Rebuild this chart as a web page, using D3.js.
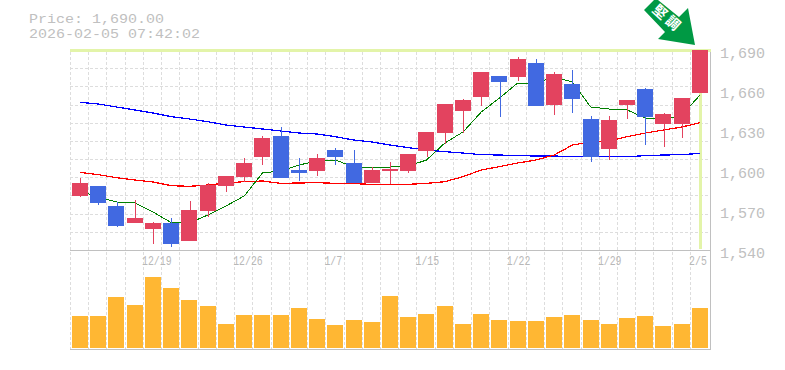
<!DOCTYPE html>
<html>
<head>
<meta charset="utf-8">
<script src="https://cdn.jsdelivr.net/npm/d3@7"></script>
<style>
  html, body { margin: 0; padding: 0; background: #fff; overflow: hidden; }
  text { font-family: "Liberation Mono", monospace; fill: #c0c0c0; }
</style>
</head>
<body>
<div id="chart"></div>
<script>
// etiquetas y datos
const titlePrice = 'Price: 1,690.00';
const titleTime = '2026-02-05 07:42:02';
const arrowLabel = ['堅', '調'];

const dates = ['12/15', '12/16', '12/17', '12/18', '12/19', '12/22', '12/23', '12/24', '12/25', '12/26',
  '12/29', '12/30', '1/5', '1/6', '1/7', '1/8', '1/9', '1/13', '1/14', '1/15',
  '1/16', '1/19', '1/20', '1/21', '1/22', '1/23', '1/26', '1/27', '1/28', '1/29',
  '1/30', '2/2', '2/3', '2/4', '2/5'];
const dateTicks = ['12/19', '12/26', '1/7', '1/15', '1/22', '1/29', '2/5'];
const priceTicks = [1540, 1570, 1600, 1630, 1660, 1690];

const open = [1580.5, 1588, 1573, 1560, 1556, 1560, 1547, 1569, 1588, 1595,
  1610, 1625.5, 1600, 1599, 1615, 1605, 1590, 1599, 1599, 1614,
  1628, 1644, 1655, 1670.5, 1670, 1680, 1649, 1664.5, 1638, 1616,
  1649, 1661, 1634.5, 1634.5, 1658];
const high = [1594, 1588, 1576, 1577.5, 1561, 1564, 1577, 1590, 1595.5, 1609,
  1625.5, 1632, 1609, 1612, 1616.5, 1615, 1602, 1606, 1612, 1628.5,
  1649.5, 1653, 1673.5, 1670.5, 1685, 1683, 1673.5, 1675, 1640.5, 1640.5,
  1652.5, 1661.5, 1643, 1654, 1690];
const low = [1580, 1574, 1557, 1560, 1544.5, 1542, 1547, 1565, 1583.5, 1591,
  1604, 1594, 1592, 1595.5, 1604, 1590, 1590, 1589.5, 1598, 1610,
  1619.5, 1628, 1648, 1640, 1667, 1648, 1641, 1643, 1606, 1607.5,
  1638, 1619, 1617, 1624, 1658];
const close = [1590, 1575, 1558, 1564, 1560, 1544.5, 1570, 1589, 1595.5, 1605,
  1624, 1594, 1598, 1609, 1610, 1590, 1600, 1601, 1612, 1628.5,
  1649.5, 1652.5, 1673.5, 1666, 1683, 1648, 1672, 1653, 1610, 1637.5,
  1652.5, 1640, 1642, 1654, 1690];

const maShort = [1584.25, 1579.75, 1576, 1575.25, 1568.5, 1560.5, 1560.25, 1566.25, 1573, 1580.5,
  1597.75, 1599.25, 1603.75, 1606.75, 1607.5, 1602.25, 1602.25, 1602.25, 1603, 1607.5,
  1620.25, 1628.5, 1643.5, 1654, 1665.25, 1665.25, 1669.75, 1666, 1647.25, 1645.75,
  1645, 1639, 1637.5, 1641.25, 1656.25];
const maMid = [1598.25, 1596.5, 1594.25, 1592.5, 1591, 1588.25, 1587.75, 1588.75, 1590.25, 1591.25,
  1591.75, 1590, 1590.25, 1590.5, 1590, 1589.75, 1589.25, 1589.25, 1589.25, 1590,
  1591.25, 1595, 1600, 1602.5, 1605.25, 1607.5, 1611.25, 1618.75, 1621, 1621.75,
  1625, 1627.75, 1630, 1632.25, 1635.5];
const maLong = [1650.75, 1649.5, 1647.25, 1645, 1642.75, 1640, 1638.25, 1636.25, 1633.75, 1632.25,
  1630.75, 1629.25, 1627.75, 1627, 1625, 1622.5, 1621, 1618.75, 1616.75, 1615,
  1613.75, 1612.75, 1611.5, 1611.25, 1610.75, 1610.5, 1610.5, 1610, 1610, 1610,
  1610, 1610.75, 1611.25, 1611.5, 1612.5];

const volume = [32, 32, 51, 43, 71, 60, 48, 42, 24, 33,
  33, 33, 40, 29, 23, 28, 26, 52, 31, 34,
  42, 24, 34, 28, 27, 27, 31, 33, 28, 24,
  30, 32, 22, 24, 40];

const width = 785;
const height = 370;

const svg = d3.select('#chart')
  .append('svg')
  .attr('width', width)
  .attr('height', height)
  .style('display', 'block');

// escalas
const x = d3.scaleBand().domain(dates).range([71, 709.2]);
const y = d3.scaleLinear().domain([1540, 1690]).range([250, 50]);
const yVol = d3.scaleLinear().domain([0, 100]).range([348, 248]);
const bodyW = x.bandwidth() - 2;
const cx = i => x(dates[i]) + x.bandwidth() / 2;

// rejilla: 11 divisiones en precio, una columna por dia
const grid = svg.append('g')
  .attr('stroke', '#dddddd')
  .attr('stroke-dasharray', '3 2')
  .attr('shape-rendering', 'crispEdges');

grid.selectAll('.h')
  .data(d3.range(1, 11))
  .join('line')
  .attr('x1', 70).attr('x2', 709)
  .attr('y1', d => Math.round(250 - d * 200 / 11) + 0.5)
  .attr('y2', d => Math.round(250 - d * 200 / 11) + 0.5);

grid.selectAll('.v')
  .data(dates)
  .join('line')
  .attr('x1', d => Math.round(x(d)) - 0.5)
  .attr('x2', d => Math.round(x(d)) - 0.5)
  .attr('y1', 52).attr('y2', 349);

// marco
const frame = svg.append('g')
  .attr('stroke', '#c0c0c0')
  .attr('shape-rendering', 'crispEdges');
frame.append('line').attr('x1', 70).attr('x2', 711).attr('y1', 250.5).attr('y2', 250.5);
frame.append('line').attr('x1', 70).attr('x2', 711).attr('y1', 349.5).attr('y2', 349.5);
frame.append('line').attr('x1', 710.5).attr('x2', 710.5).attr('y1', 50).attr('y2', 350);

// marca del ultimo precio
svg.append('rect').attr('x', 70).attr('y', 49).attr('width', 641).attr('height', 3).attr('fill', '#e3f4a9');
svg.append('rect').attr('x', 699).attr('y', 50).attr('width', 3).attr('height', 199).attr('fill', '#e3f4a9');

// medias moviles
const maLine = d3.line()
  .x((d, i) => cx(i))
  .y(d => y(d));

[[maLong, '#0000ff', 1.25], [maMid, '#ff0000', 1.25], [maShort, '#008000', 1]].forEach(([values, color, w]) => {
  svg.append('path')
    .datum(values)
    .attr('d', maLine)
    .attr('fill', 'none')
    .attr('stroke', color)
    .attr('stroke-width', w)
    .attr('shape-rendering', 'crispEdges');
});

// velas
const candleColor = i => close[i] >= open[i] ? '#e3435f' : '#4169e1';
const candles = svg.append('g').attr('shape-rendering', 'crispEdges');

candles.selectAll('line')
  .data(dates)
  .join('line')
  .attr('x1', (d, i) => Math.round(cx(i)) + 0.5)
  .attr('x2', (d, i) => Math.round(cx(i)) + 0.5)
  .attr('y1', (d, i) => y(high[i]))
  .attr('y2', (d, i) => y(low[i]))
  .attr('stroke', (d, i) => candleColor(i));

candles.selectAll('rect')
  .data(dates)
  .join('rect')
  .attr('x', d => Math.round(x(d) + 1))
  .attr('width', bodyW)
  .attr('y', (d, i) => y(Math.max(open[i], close[i])))
  .attr('height', (d, i) => Math.abs(y(open[i]) - y(close[i])))
  .attr('fill', (d, i) => candleColor(i));

// volumen
svg.append('g')
  .attr('shape-rendering', 'crispEdges')
  .selectAll('rect')
  .data(volume)
  .join('rect')
  .attr('x', (d, i) => Math.round(x(dates[i]) + 1))
  .attr('width', bodyW)
  .attr('y', d => yVol(d))
  .attr('height', d => yVol(0) - yVol(d))
  .attr('fill', '#ffb733');

// eje de fechas
const xAxis = d3.axisBottom(x)
  .tickValues(dateTicks)
  .tickSize(0);

const xg = svg.append('g')
  .attr('transform', 'translate(0, 251)')
  .call(xAxis);
xg.select('.domain').remove();
xg.selectAll('text')
  .style('font-size', '12.5px')
  .style('fill', '#b8b8b8')
  .attr('text-anchor', 'start')
  .attr('x', -11)
  .attr('y', 5)
  .attr('dy', '0.71em')
  .attr('textLength', d => d.length * 5.9)
  .attr('lengthAdjust', 'spacingAndGlyphs');

// eje de precios
const yAxis = d3.axisRight(y)
  .tickValues(priceTicks)
  .tickFormat(d3.format(','))
  .tickSize(0);

const yg = svg.append('g')
  .attr('transform', 'translate(720, 3)')
  .call(yAxis);
yg.select('.domain').remove();
yg.selectAll('text')
  .style('font-size', '15px')
  .attr('x', 0);

// titulo (el texto se estira para imitar la fuente ancha del original)
[[titlePrice, 23], [titleTime, 38]].forEach(([label, baseline]) => {
  svg.append('text')
    .attr('x', 29)
    .attr('y', baseline)
    .attr('textLength', label.length * 9)
    .attr('lengthAdjust', 'spacingAndGlyphs')
    .style('font-size', '13px')
    .text(label);
});

// flecha
svg.append('polygon')
  .attr('points', '644,10 654,0 658,0 679,17 688,8 695,45 658,39 665,32')
  .attr('fill', '#009944');

svg.selectAll('.arrow-label')
  .data(arrowLabel)
  .join('text')
  .attr('class', 'arrow-label')
  .attr('transform', (d, i) => `translate(${660 + i * 13}, ${12 + i * 11}) rotate(42)`)
  .attr('text-anchor', 'middle')
  .attr('dy', '0.36em')
  .style('font-family', '"Noto Sans CJK JP"')
  .style('font-weight', 700)
  .style('font-size', '14px')
  .style('fill', '#fff')
  .text(d => d);
</script>
</body>
</html>
